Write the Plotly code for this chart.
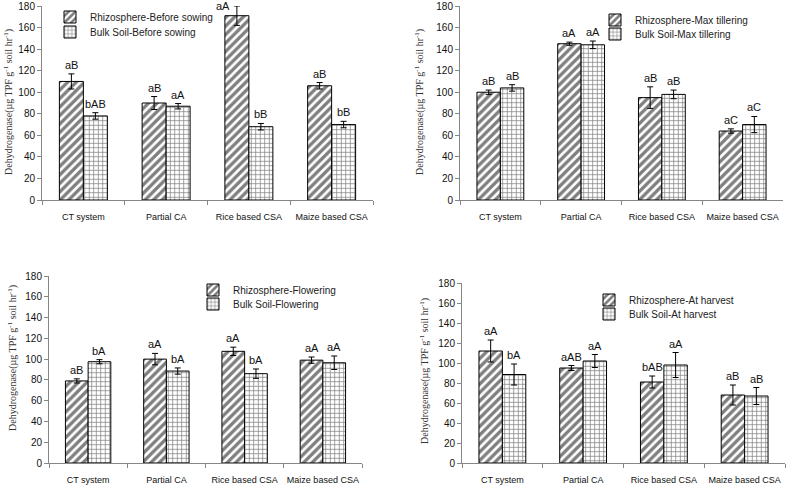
import plotly.graph_objects as go

categories = ["CT system", "Partial CA", "Rice based CSA", "Maize based CSA"]

# Panel 1: Before sowing
p1_rhizo = [110, 90, 171, 106]
p1_rhizo_err = [7, 6, 9, 3]
p1_bulk = [78, 87, 68, 70]
p1_bulk_err = [3, 2.5, 3, 3]
p1_rhizo_lbl = ["aB", "aB", "aA", "aB"]
p1_bulk_lbl = ["bAB", "aA", "bB", "bB"]

# Panel 2: Max tillering
p2_rhizo = [100, 145, 95, 64]
p2_rhizo_err = [2, 1.5, 10, 2]
p2_bulk = [104, 144, 98, 70]
p2_bulk_err = [3, 3.5, 4, 7.5]
p2_rhizo_lbl = ["aB", "aA", "aB", "aC"]
p2_bulk_lbl = ["aB", "aA", "aB", "aC"]

# Panel 3: Flowering
p3_rhizo = [79, 100, 107.5, 99]
p3_rhizo_err = [2, 5.5, 4, 3]
p3_bulk = [97.5, 88.5, 86, 96.5]
p3_bulk_err = [2, 3, 4.5, 6.5]
p3_rhizo_lbl = ["aB", "aA", "aA", "aA"]
p3_bulk_lbl = ["bA", "bA", "bA", "aA"]

# Panel 4: At harvest
p4_rhizo = [112, 95, 81, 68]
p4_rhizo_err = [11, 2.5, 6, 10]
p4_bulk = [88.5, 102, 98, 67]
p4_bulk_err = [10.5, 6.5, 12.5, 8.5]
p4_rhizo_lbl = ["aA", "aAB", "bAB", "aB"]
p4_bulk_lbl = ["bA", "aA", "aA", "aB"]

stages = ["Before sowing", "Max tillering", "Flowering", "At harvest"]
y_ticks = [0, 20, 40, 60, 80, 100, 120, 140, 160, 180]

W, H = 787, 486

def fx(p):
    return p / W

def fy(p):
    return 1 - p / H

# layout boxes in pixels
boxes = [
    dict(x0=42, x1=373, yb=200, yt=6, tx=8, ty=102, lx=50, ly1=17, ly2=32),
    dict(x0=460, x1=783, yb=200, yt=6, tx=419, ty=102, lx=595, ly1=20, ly2=34),
    dict(x0=49, x1=362, yb=463, yt=276, tx=12, ty=358, lx=193, ly1=290, ly2=304),
    dict(x0=462, x1=785, yb=463, yt=283, tx=424, ty=371, lx=589, ly1=300, ly2=314),
]

data = [
    (p1_rhizo, p1_rhizo_err, p1_bulk, p1_bulk_err, p1_rhizo_lbl, p1_bulk_lbl),
    (p2_rhizo, p2_rhizo_err, p2_bulk, p2_bulk_err, p2_rhizo_lbl, p2_bulk_lbl),
    (p3_rhizo, p3_rhizo_err, p3_bulk, p3_bulk_err, p3_rhizo_lbl, p3_bulk_lbl),
    (p4_rhizo, p4_rhizo_err, p4_bulk, p4_bulk_err, p4_rhizo_lbl, p4_bulk_lbl),
]

fig = go.Figure()
annotations = []
layout_upd = {}
BARGAP = 0.42
legend_font = dict(family="Liberation Sans", size=10, color="#222")
label_font = dict(family="Liberation Sans", size=11, color="#111")


def add_label(cat, v, e, t, xa, ya, shift):
    top = v + e
    if top > 172:
        # too close to the top edge: put it beside the error bar
        annotations.append(dict(text=t, x=cat, y=top, xref=xa, yref=ya,
                                xanchor="center", yanchor="middle", showarrow=False,
                                xshift=shift - 14, yshift=0, font=label_font))
    else:
        annotations.append(dict(text=t, x=cat, y=top, xref=xa, yref=ya,
                                xanchor="center", yanchor="bottom", showarrow=False,
                                xshift=shift, yshift=1, font=label_font))


for i, (box, d, stage) in enumerate(zip(boxes, data, stages)):
    n = i + 1
    xa = "x" if n == 1 else f"x{n}"
    ya = "y" if n == 1 else f"y{n}"
    lg_r = "legend" if n == 1 else f"legend{2 * n - 1}"
    lg_b = f"legend{2 * n}"
    rh, rhe, bk, bke, rl, bl = d
    fig.add_trace(go.Bar(
        x=categories, y=rh, name=f"Rhizosphere-{stage}",
        error_y=dict(type="data", array=rhe, color="black", thickness=1, width=3),
        marker=dict(color="white", line=dict(color="black", width=1),
                    pattern=dict(shape="/", fgcolor="black", bgcolor="white", size=6, solidity=0.55)),
        xaxis=xa, yaxis=ya, legend=lg_r, showlegend=True,
    ))
    fig.add_trace(go.Bar(
        x=categories, y=bk, name=f"Bulk Soil-{stage}",
        error_y=dict(type="data", array=bke, color="black", thickness=1, width=3),
        marker=dict(color="white", line=dict(color="black", width=1),
                    pattern=dict(shape="+", fgcolor="black", bgcolor="white", size=4.5, solidity=0.3)),
        xaxis=xa, yaxis=ya, legend=lg_b, showlegend=True,
    ))
    xkey = "xaxis" if n == 1 else f"xaxis{n}"
    ykey = "yaxis" if n == 1 else f"yaxis{n}"
    layout_upd[xkey] = dict(
        domain=[fx(box["x0"]), fx(box["x1"])], anchor=ya,
        showline=True, linecolor="#868686", linewidth=1,
        ticks="outside", tickson="boundaries", ticklen=4, tickcolor="#868686",
        tickfont=dict(family="Liberation Sans", size=9, color="#111"),
        tickangle=0, ticklabelstandoff=8, showgrid=False,
    )
    layout_upd[ykey] = dict(
        domain=[fy(box["yb"]), fy(box["yt"])], anchor=xa,
        range=[0, 180], tickvals=y_ticks,
        showline=True, linecolor="#868686", linewidth=1,
        ticks="outside", ticklen=4, tickcolor="#868686",
        tickfont=dict(family="Liberation Sans", size=10, color="#111"),
        showgrid=False, zeroline=False,
    )
    for lg, ly in ((lg_r, box["ly1"]), (lg_b, box["ly2"])):
        layout_upd[lg] = dict(
            x=fx(box["lx"]), y=fy(ly), xanchor="left", yanchor="middle",
            bgcolor="rgba(0,0,0,0)", font=legend_font, itemwidth=30, visible=True,
        )
    # y title
    annotations.append(dict(
        text="Dehydrogenase(µg TPF g<sup>-1</sup> soil hr<sup>-1</sup>)",
        xref="paper", yref="paper", x=fx(box["tx"]), y=fy(box["ty"]),
        xanchor="center", yanchor="middle", textangle=-90, showarrow=False,
        font=dict(family="Liberation Serif", size=10, color="#333"),
    ))
    # bar letter labels
    cat_px = (box["x1"] - box["x0"]) / len(categories)
    half = cat_px * (1 - BARGAP) / 4
    for cat, v, e, t in zip(categories, rh, rhe, rl):
        add_label(cat, v, e, t, xa, ya, -half)
    for cat, v, e, t in zip(categories, bk, bke, bl):
        add_label(cat, v, e, t, xa, ya, half)

fig.update_layout(
    width=W, height=H, margin=dict(l=0, r=0, t=0, b=0, autoexpand=False),
    paper_bgcolor="white", plot_bgcolor="white",
    barmode="group", bargap=BARGAP, bargroupgap=0,
    showlegend=True,
    annotations=annotations,
    **layout_upd,
)

fig.write_html("out.html", config={"displayModeBar": False},
               post_script="document.body.style.margin='0px';")
